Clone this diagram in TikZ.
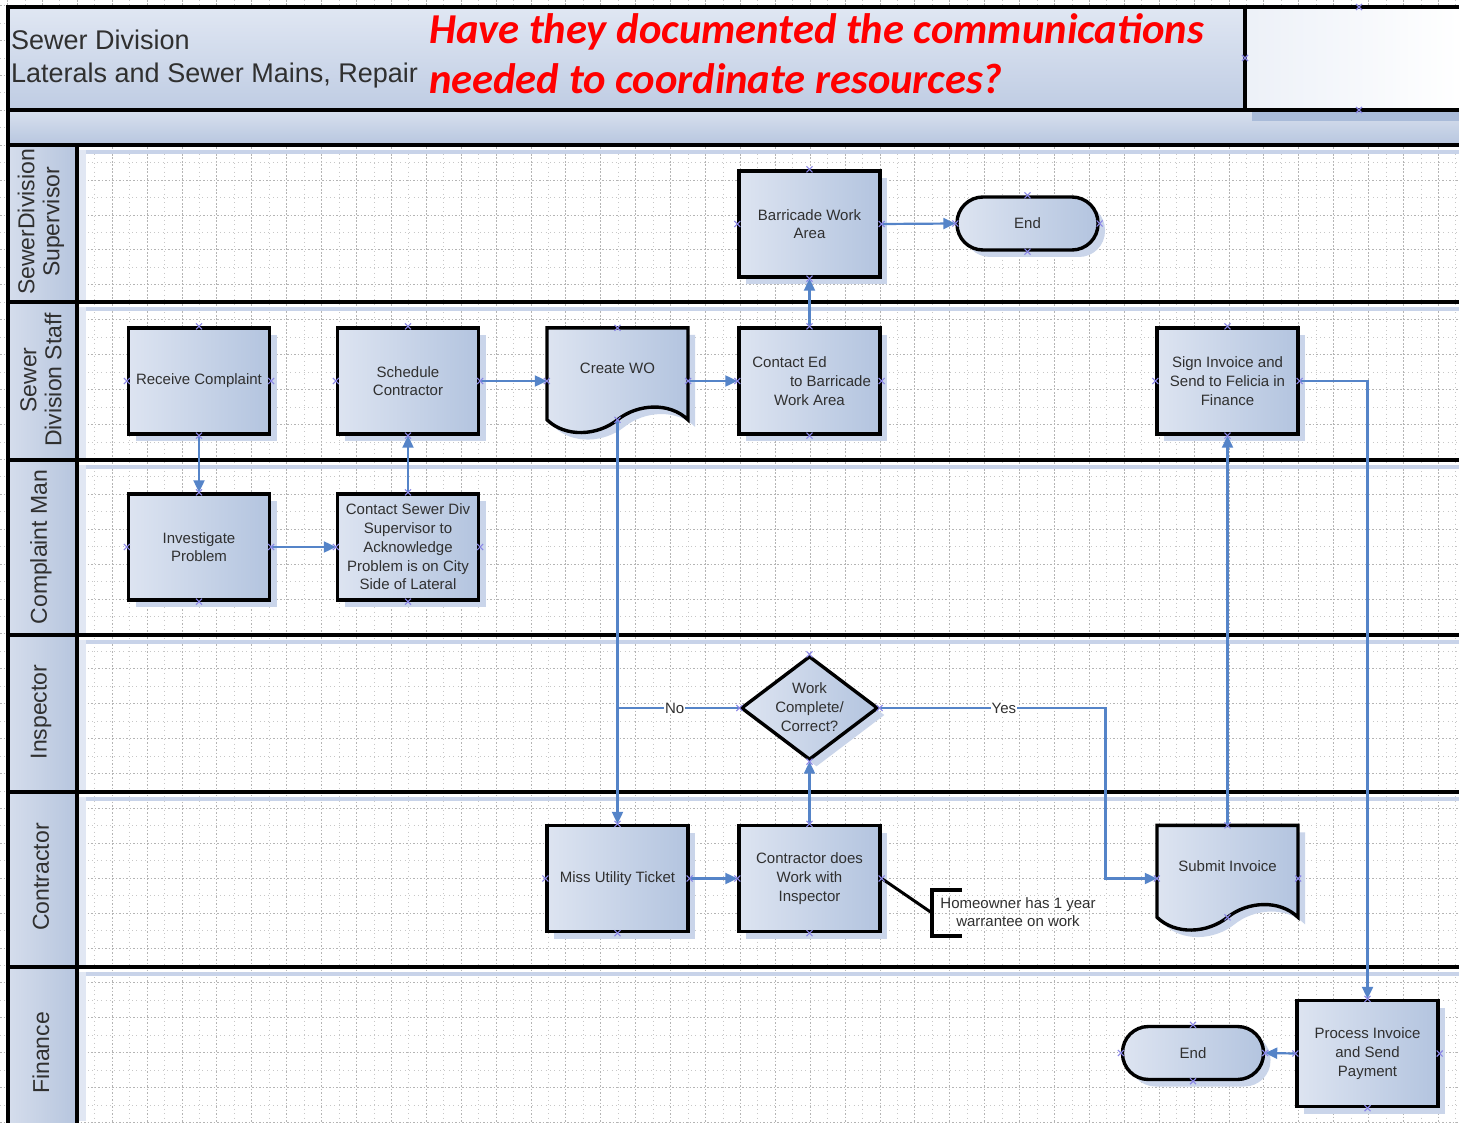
\documentclass[tikz,border=0pt]{standalone}
\usepackage{fontspec}
\setmainfont{Liberation Sans}
\newfontfamily\calibfont{Carlito}
\usetikzlibrary{shapes.geometric, arrows.meta, shadows}

\definecolor{lineblue}{HTML}{5584C8}
\definecolor{boxA}{HTML}{DDE4F1}
\definecolor{boxB}{HTML}{B3C4DF}
\definecolor{shadowblue}{HTML}{CAD5EA}
\definecolor{ptcolor}{HTML}{8A86E6}
\definecolor{txt}{HTML}{303030}
\definecolor{hdrA}{HTML}{E0E7F3}
\definecolor{hdrB}{HTML}{BFCCE3}
\definecolor{bandA}{HTML}{D8E0EE}
\definecolor{bandB}{HTML}{B7C6DF}
\definecolor{bandstrip}{HTML}{A9BBD9}
\definecolor{labA}{HTML}{D5DDEC}
\definecolor{labB}{HTML}{B6C5DE}
\definecolor{lanestrip}{HTML}{C8D3E9}
\definecolor{gridcol}{HTML}{B4B4B4}

\newcommand\bxfont{\fontsize{15}{18.7}\selectfont}
\newcommand\lanefont{\fontsize{23}{25}\selectfont}

\tikzset{
  boxfill/.style={left color=boxA, right color=boxB},
  shadowed/.style={drop shadow={shadow xshift=7pt, shadow yshift=-7pt, fill=shadowblue, opacity=1}},
  stepbox/.style={rectangle, draw=black, line width=3.4pt, minimum width=141pt,
    minimum height=106pt, inner sep=0pt, align=center, text=txt, font=\bxfont, boxfill, shadowed},
  endbox/.style={stepbox, rounded corners=26pt, minimum height=53pt},
  decisionbox/.style={diamond, draw=black, line width=3.4pt, minimum width=137pt,
    minimum height=104pt, inner sep=0pt, boxfill, shadowed},
  docanchor/.style={rectangle, minimum width=141pt, minimum height=106pt, inner sep=0pt},
  boxtext/.style={align=center, text=txt, font=\bxfont, inner sep=0pt},
  lanelbl/.style={align=center, text=txt, font=\lanefont, rotate=90, inner sep=0pt},
  frame/.style={line width=3.6pt, black},
  conn/.style={draw=lineblue, line width=2.2pt, -{Triangle[length=12pt,width=11pt]}},
  plain/.style={draw=lineblue, line width=2.2pt},
  lbl/.style={fill=white, inner sep=1pt, text=txt, font=\bxfont},
  gridmajor/.style={gridcol, line width=0.6pt, dash pattern=on 1.6pt off 1.9pt},
  gridminor/.style={gridcol!75, line width=0.5pt, dash pattern=on 1pt off 3.4pt},
  ptmark/.pic={\draw[ptcolor, line width=1.1pt] (-3,-3) -- (3,3) (-3,3) -- (3,-3);},
}

\begin{document}
\begin{tikzpicture}[x=1pt, y=-1pt]
\useasboundingbox (0,0) rectangle (1459,1123);
\fill[white] (0,0) rectangle (1459,1123);

% background grid
\foreach \k in {0,...,41} {
  \draw[gridmajor] ({7.3+34.9*\k},0) -- ({7.3+34.9*\k},1123);
  \draw[gridminor] ({24.75+34.9*\k},0) -- ({24.75+34.9*\k},1123);
}
\foreach \k in {0,...,32} {
  \draw[gridmajor] (0,{5.5+34.9*\k}) -- (1459,{5.5+34.9*\k});
  \draw[gridminor] (0,{22.95+34.9*\k}) -- (1459,{22.95+34.9*\k});
}

% title block and band
\shade[top color=hdrA, bottom color=hdrB] (8,7) rectangle (1245,110);
\shade[left color=hdrA!60, right color=white] (1245,7) rectangle (1459,110);
\shade[top color=bandA, bottom color=bandB] (8,110) rectangle (1459,145);
\fill[bandstrip] (1252,112) rectangle (1459,121);

% lane label cells and lane strips
\foreach \t/\b in {145/302, 302/460, 460/635, 635/792, 792/967, 967/1123} {
  \shade[left color=labA, right color=labB] (8,\t) rectangle (77,\b);
  \fill[lanestrip] (79,{\t+5}) rectangle (1459,{\t+9});
  \fill[lanestrip!55] (79,{\t+5}) rectangle (86,{\b-2});
}

% frame lines
\draw[frame] (8,1123) -- (8,7) -- (1459,7);
\draw[frame] (1245,7) -- (1245,110);
\foreach \yy in {110,145,302,460,635,792,967} \draw[frame] (8,\yy) -- (1459,\yy);
\draw[frame] (77,145) -- (77,1123);

% titles
\node[anchor=base west, inner sep=0pt, text=txt, font=\fontsize{27}{30}\selectfont] (title1) at (11,50) {Sewer Division};
\node[anchor=base west, inner sep=0pt, text=txt, font=\fontsize{27}{30}\selectfont] (title2) at (11,83) {Laterals and Sewer Mains, Repair};
\node[anchor=base west, inner sep=0pt, text=red, font=\calibfont\bfseries\itshape\fontsize{42.6}{48}\selectfont] (q1) at (429,44) {Have they documented the communications};
\node[anchor=base west, inner sep=0pt, text=red, font=\calibfont\bfseries\itshape\fontsize{42.6}{48}\selectfont] (q2) at (429,94) {needed to coordinate resources?};

% lane labels
\node[lanelbl] (lane1) at (41,222) {SewerDivision\\Supervisor};
\node[lanelbl] (lane2) at (41,380) {Sewer\\Division Staff};
\node[lanelbl] (lane3) at (41,547) {Complaint Man};
\node[lanelbl] (lane4) at (41,712) {Inspector};
\node[lanelbl] (lane5) at (41,877) {Contractor};
\node[lanelbl] (lane6) at (41,1053) {Finance};

% process steps
\node[stepbox] (barricade) at (809.5,224) {Barricade Work\\Area};
\node[endbox] (endtop) at (1027.5,223.5) {End};
\node[stepbox] (receive) at (199,381) {Receive Complaint};
\node[stepbox] (schedule) at (408,381) {Schedule\\Contractor};
\node[stepbox] (contacted) at (809.5,381) {Contact Ed\rule{40pt}{0pt}\\\rule{42pt}{0pt}to Barricade\\Work Area};
\node[stepbox] (sign) at (1227.5,381) {Sign Invoice and\\Send to Felicia in\\Finance};
\node[stepbox] (investigate) at (199,547) {Investigate\\Problem};
\node[stepbox] (contactsup) at (408,547) {Contact Sewer Div\\Supervisor to\\Acknowledge\\Problem is on City\\Side of Lateral};
\node[decisionbox] (decision) at (809.5,708) {};
\node[boxtext] (decision-t) at (809.5,707) {Work\\Complete/\\Correct?};
\node[stepbox] (miss) at (617.5,878.5) {Miss Utility Ticket};
\node[stepbox] (contractor) at (809.5,878.5) {Contractor does\\Work with\\Inspector};
\node[stepbox] (process) at (1367.5,1053.5) {Process Invoice\\and Send\\Payment};
\node[endbox] (endbot) at (1193,1053) {End};

% document shapes
\node[docanchor] (createwo) at (617.5,381) {};
\node[docanchor] (submit) at (1227.5,878.5) {};
\foreach \d in {createwo, submit} {
  \begin{scope}[shift={(\d.north)}]
    \fill[shadowblue] (-63.5,7) -- (77.5,7) -- (77.5,99)
      .. controls (59,81) and (27,83) .. (7,99)
      .. controls (-13,115) and (-45,117) .. (-63.5,99) -- cycle;
    \draw[black, line width=3.4pt, left color=boxA, right color=boxB]
      (-70.5,0) -- (70.5,0) -- (70.5,92)
      .. controls (52,74) and (20,76) .. (0,92)
      .. controls (-20,108) and (-52,110) .. (-70.5,92) -- cycle;
    \coordinate (\d-b) at (0,92);
  \end{scope}
}
\node[boxtext] (createwo-t) at (617.5,368) {Create WO};
\node[boxtext] (submit-t) at (1227.5,866) {Submit Invoice};

% note
\coordinate (notebr) at (932,913);
\node[boxtext] (note) at (1018,912) {Homeowner has 1 year\\warrantee on work};
\draw[black, line width=3pt] (contractor.east) -- (notebr);
\draw[black, line width=3.4pt] ([shift={(30,-23)}]notebr) -- ([shift={(0,-23)}]notebr)
  -- ([shift={(0,23)}]notebr) -- ([shift={(30,23)}]notebr);

% connectors
\draw[conn] (barricade.east) -- (endtop.west);
\draw[conn] (contacted.north) -- (barricade.south);
\draw[conn] (receive.south) -- (investigate.north);
\draw[conn] (investigate.east) -- (contactsup.west);
\draw[conn] (contactsup.north) -- (schedule.south);
\draw[conn] (schedule.east) -- (createwo.west);
\draw[conn] (createwo.east) -- (contacted.west);
\draw[conn] (createwo-b) -- (miss.north);
\draw[plain] (decision.west) -- node[lbl, pos=0.53] {No} (decision.west -| createwo-b);
\draw[conn] (miss.east) -- (contractor.west);
\draw[conn] (contractor.north) -- (decision.south);
\coordinate (yesbend) at (1105.5,708);
\draw[conn] (decision.east) -- node[lbl, pos=0.55] {Yes} (yesbend) |- (submit.west);
\draw[conn] (submit.north) -- (sign.south);
\draw[conn] (sign.east) -| (process.north);
\draw[conn] (process.west) -- (endbot.east);

% connection points
\foreach \n in {barricade,endtop,receive,schedule,contacted,sign,investigate,contactsup,miss,contractor,process,endbot,decision}
  \foreach \a in {north,south,east,west}
    \pic at (\n.\a) {ptmark};
\foreach \d in {createwo, submit} {
  \pic at (\d.north) {ptmark};
  \pic at (\d.east) {ptmark};
  \pic at (\d.west) {ptmark};
  \pic at (\d-b) {ptmark};
}
\coordinate (hdrtop) at (1359,7);
\coordinate (hdrbot) at (1359,110);
\coordinate (hdrside) at (1245,58);
\pic at (hdrtop) {ptmark};
\pic at (hdrbot) {ptmark};
\pic at (hdrside) {ptmark};
\end{tikzpicture}
\end{document}
